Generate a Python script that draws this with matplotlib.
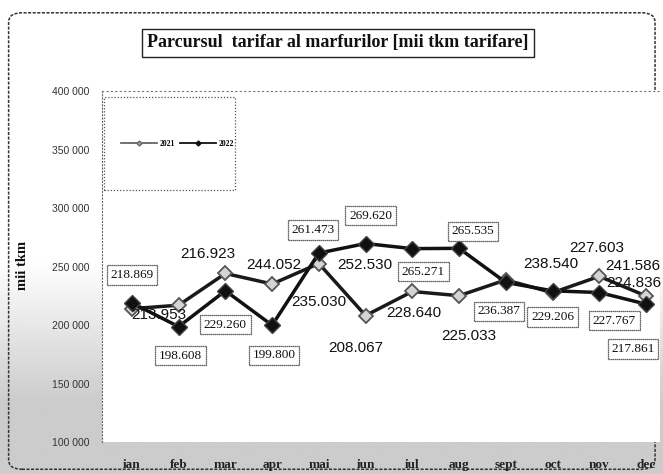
import numpy as np
import matplotlib
matplotlib.use("Agg")
import matplotlib.pyplot as plt
from matplotlib.lines import Line2D
from matplotlib.patches import Rectangle, FancyBboxPatch

months = ["ian", "feb", "mar", "apr", "mai", "iun", "iul", "aug", "sept", "oct", "nov", "dec"]
v2021 = [213953, 216923, 244052, 235030, 252530, 208067, 228640, 225033, 238540, 227603, 241586, 224836]
v2022 = [218869, 198608, 229260, 199800, 261473, 269620, 265271, 265535, 236387, 229206, 227767, 217861]
yticks = [100000, 150000, 200000, 250000, 300000, 350000, 400000]

# label offsets in pixels (dx, dy)
off2021 = [(27, -6), (29, 51), (48, 8), (47, -18), (46, -1), (-10, -32),
           (2, -22), (10, -40), (45, 16), (44, 45), (34, 10), (-12, 13)]
off2022 = [(0, 28), (2, -29), (0, -34), (2, -30), (-6, 23), (5, 28),
           (11, -23), (14, 17), (-7, -29), (0, -26), (15, -28), (-13, -45)]

fig = plt.figure(figsize=(6.63, 4.74), dpi=100)

# scanned grey background, lighter at the top
bg = fig.add_axes([0, 0, 1, 1], zorder=0)
bg.axis("off")
yy = np.linspace(0, 1, 200)[:, None]
shade = 1 - 0.2 * np.clip((yy - 0.55) / 0.3, 0, 1)
bg.imshow(np.repeat(shade, 10, axis=1), cmap="gray", vmin=0, vmax=1,
          aspect="auto", extent=[0, 1, 0, 1], origin="upper")
bg.set_xlim(0, 1)
bg.set_ylim(0, 1)
bg.add_patch(FancyBboxPatch((0.013, 0.01), 0.975, 0.963, boxstyle="round,pad=0,rounding_size=0.02",
                            fill=False, ec="#333333", lw=1.1, ls=(0, (2, 1)), transform=bg.transAxes))

ax = fig.add_axes([102 / 663, 1 - 442 / 474, 558 / 663, 351 / 474], zorder=1)
ax.set_facecolor("white")
x = np.arange(len(months))

ax.plot(x, v2021, color="#1a1a1a", lw=2.5, marker="D", ms=7.5,
        mfc="#d4d4d4", mec="#555555", mew=1.3, zorder=3)
ax.plot(x, v2022, color="#111111", lw=2.5, marker="D", ms=8,
        mfc="#111111", mec="#444444", mew=1, zorder=4)

for i in range(len(months)):
    ax.annotate(f"{v2021[i] / 1000:.3f}", (x[i], v2021[i]), xytext=off2021[i],
                textcoords="offset pixels", ha="center", va="center",
                fontsize=11, family="Liberation Sans", color="#111111", zorder=5)
    ax.annotate(f"{v2022[i] / 1000:.3f}", (x[i], v2022[i]), xytext=off2022[i],
                textcoords="offset pixels", ha="center", va="center",
                fontsize=9.5, family="Liberation Serif", color="#111111", zorder=6,
                bbox=dict(boxstyle="square,pad=0.28", fc="white", ec="#333333", lw=0.9, ls=(0, (1, 0.6))))

ax.set_xlim(-0.64, 11.3)
ax.set_ylim(100000, 400000)
ax.set_yticks(yticks)
ax.set_yticklabels([f"{t:,}".replace(",", " ") for t in yticks],
                   fontsize=7.5, family="Liberation Sans", color="#333333")
ax.set_xticks(x)
ax.set_xticklabels(months, fontsize=9.5, family="Liberation Serif", fontweight="bold", color="#222222")
ax.tick_params(axis="y", length=0, pad=9)
ax.tick_params(axis="x", length=0, pad=12)
for s in ["right", "bottom"]:
    ax.spines[s].set_visible(False)
ax.spines["left"].set_linestyle((0, (1, 2)))
ax.spines["left"].set_color("#666666")
ax.spines["top"].set_linestyle((0, (1, 3)))
ax.spines["top"].set_color("#777777")

# legend with its own large dotted frame
ax.add_patch(Rectangle((0.003, 0.718), 0.235, 0.265, transform=ax.transAxes, fill=False,
                       ec="#555555", lw=0.9, ls=(0, (1, 1.5)), zorder=2))
handles = [Line2D([], [], color="#666666", lw=1.3, marker="D", ms=2.5, mfc="#aaaaaa"),
           Line2D([], [], color="#111111", lw=1.3, marker="D", ms=2.5, mfc="#111111")]
ax.legend(handles, ["2021", "2022"], ncol=2, frameon=False,
          prop={"family": "Liberation Serif", "size": 5.5, "weight": "bold"},
          loc="center", bbox_to_anchor=(0.135, 0.85), handlelength=4.8, columnspacing=0.6,
          handletextpad=0.3)

fig.text(22 / 663, 1 - 265 / 474, "mii tkm", rotation=90, ha="center", va="center",
         fontsize=10.5, family="Liberation Serif", fontweight="bold", color="#111111")
fig.text(338 / 663, 1 - 43 / 474, "Parcursul  tarifar al marfurilor [mii tkm tarifare]",
         ha="center", va="center", fontsize=13, family="Liberation Serif", fontweight="bold",
         color="#111111", bbox=dict(boxstyle="square,pad=0.3", fc="white", ec="#222222", lw=1.0))

fig.savefig("out.png", dpi=100)
